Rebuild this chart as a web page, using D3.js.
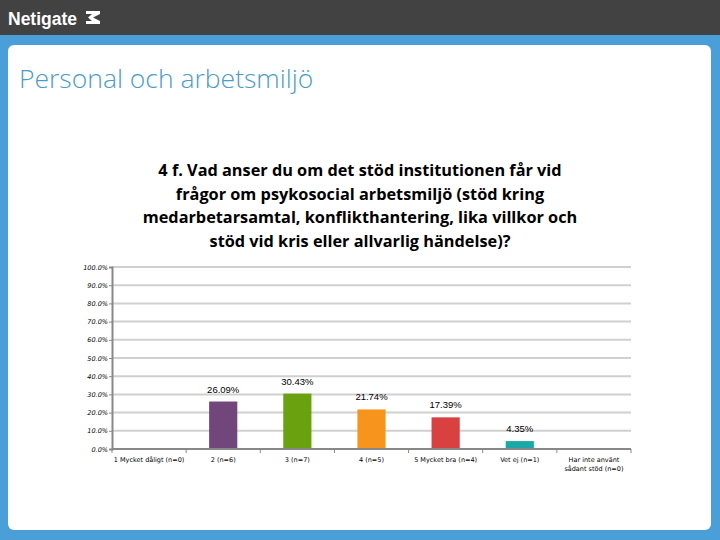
<!DOCTYPE html>
<html>
<head>
<meta charset="utf-8">
<script src="https://cdn.jsdelivr.net/npm/d3@7"></script>
<style>
  body { margin: 0; padding: 0; }
  svg { display: block; }
</style>
</head>
<body>
<div id="chart"></div>
<script>
const categories = ['1 Mycket dåligt (n=0)', '2 (n=6)', '3 (n=7)', '4 (n=5)', '5 Mycket bra (n=4)', 'Vet ej (n=1)', 'Har inte använt sådant stöd (n=0)'];
const values = [0, 26.09, 30.43, 21.74, 17.39, 4.35, 0];
const barColors = ['#6b4a8a', '#71467a', '#6aa10f', '#f7941d', '#d94040', '#1aa8a8', '#888888'];
const yTicks = [0, 10, 20, 30, 40, 50, 60, 70, 80, 90, 100];
const titleLines = [
    '4 f. Vad anser du om det stöd institutionen får vid',
    'frågor om psykosocial arbetsmiljö (stöd kring',
    'medarbetarsamtal, konflikthantering, lika villkor och',
    'stöd vid kris eller allvarlig händelse)?'
];

const W = 720, H = 540;
const svg = d3.select('#chart').append('svg')
    .attr('width', W)
    .attr('height', H);

// page frame
svg.append('rect').attr('width', W).attr('height', H).attr('fill', '#4a9fd8');
svg.append('rect').attr('width', W).attr('height', 35).attr('fill', '#424242');
svg.append('rect')
    .attr('x', 8).attr('y', 45).attr('width', 703).attr('height', 485)
    .attr('rx', 6).attr('fill', '#ffffff');

// logo
svg.append('text')
    .attr('x', 8).attr('y', 25)
    .style('font-family', 'Liberation Sans, Arial, sans-serif')
    .style('font-weight', 'bold')
    .style('font-size', '17.5px')
    .attr('fill', '#ffffff')
    .text('Netigate');
svg.append('path')
    .attr('d', 'M86,11 L100,11 L100,14 L93,17.5 L100,21 L100,24 L86,24 L86,21 L92,21 L88,17.5 L92,14 L86,14 Z')
    .attr('fill', '#ffffff');

svg.append('text')
    .attr('x', 19).attr('y', 88)
    .style('font-family', 'Open Sans, sans-serif')
    .style('font-weight', '300')
    .style('font-size', '26.5px')
    .attr('fill', '#4a9cc8')
    .text('Personal och arbetsmiljö');

// chart title
svg.append('g').selectAll('text')
    .data(titleLines)
    .join('text')
    .attr('x', 360)
    .attr('y', (d, i) => 176 + i * 23.7)
    .attr('text-anchor', 'middle')
    .style('font-family', 'Open Sans, sans-serif')
    .style('font-weight', '700')
    .style('font-size', '16.3px')
    .attr('fill', '#000')
    .text(d => d);

const margin = { left: 112, right: 89, top: 267, bottom: 91 };
const x = d3.scaleBand()
    .domain(categories)
    .range([margin.left, W - margin.right])
    .paddingInner(0.62)
    .paddingOuter(0.31);
const y = d3.scaleLinear().domain([0, 100]).range([H - margin.bottom, margin.top]);

// gridlines
svg.append('g').selectAll('line')
    .data(yTicks.slice(1))
    .join('line')
    .attr('x1', margin.left).attr('x2', W - margin.right)
    .attr('y1', d => y(d)).attr('y2', d => y(d))
    .attr('stroke', '#d0d0d0').attr('stroke-width', 2);

// y axis
const yAxis = svg.append('g')
    .attr('transform', `translate(${margin.left},0)`)
    .call(d3.axisLeft(y).tickValues(yTicks).tickSize(3).tickFormat(d => d.toFixed(1) + '%'));
yAxis.select('.domain').attr('stroke', '#888').attr('stroke-width', 2);
yAxis.selectAll('.tick line').attr('stroke', '#888');
yAxis.selectAll('.tick text')
    .style('font-family', 'DejaVu Sans, sans-serif')
    .style('font-style', 'italic')
    .style('font-size', '6.5px')
    .attr('fill', '#000')
    .attr('x', -4);

// bars
svg.append('g').selectAll('rect')
    .data(values)
    .join('rect')
    .attr('x', (d, i) => x(categories[i]))
    .attr('y', d => y(d))
    .attr('width', x.bandwidth())
    .attr('height', d => y(0) - y(d))
    .attr('fill', (d, i) => barColors[i]);

// data labels
svg.append('g').selectAll('text')
    .data(values.map((v, i) => ({ v, i })).filter(d => d.v > 0))
    .join('text')
    .attr('x', d => x(categories[d.i]) + x.bandwidth() / 2)
    .attr('y', d => y(d.v) - 9)
    .attr('text-anchor', 'middle')
    .style('font-family', 'Liberation Sans, Arial, sans-serif')
    .style('font-size', '9.5px')
    .attr('fill', '#000')
    .text(d => d.v.toFixed(2) + '%');

// x axis
const xAxisG = svg.append('g');
xAxisG.append('line')
    .attr('x1', margin.left).attr('x2', W - margin.right)
    .attr('y1', y(0)).attr('y2', y(0))
    .attr('stroke', '#888').attr('stroke-width', 2);
xAxisG.selectAll('.xt')
    .data(d3.range(categories.length + 1))
    .join('line')
    .attr('class', 'xt')
    .attr('x1', i => margin.left + i * (W - margin.left - margin.right) / categories.length)
    .attr('x2', i => margin.left + i * (W - margin.left - margin.right) / categories.length)
    .attr('y1', y(0)).attr('y2', y(0) + 4)
    .attr('stroke', '#888');

const labelLines = c => c.startsWith('Har inte') ? ['Har inte använt', 'sådant stöd (n=0)'] : [c];
xAxisG.selectAll('.xl')
    .data(categories)
    .join('text')
    .attr('class', 'xl')
    .attr('x', c => x(c) + x.bandwidth() / 2)
    .attr('y', y(0) + 13)
    .attr('text-anchor', 'middle')
    .style('font-family', 'DejaVu Sans, sans-serif')
    .style('font-size', '6.5px')
    .attr('fill', '#000')
    .each(function (c) {
        d3.select(this).selectAll('tspan')
            .data(labelLines(c))
            .join('tspan')
            .attr('x', x(c) + x.bandwidth() / 2)
            .attr('dy', (d, i) => i === 0 ? 0 : 9)
            .text(d => d);
    });
</script>
</body>
</html>
